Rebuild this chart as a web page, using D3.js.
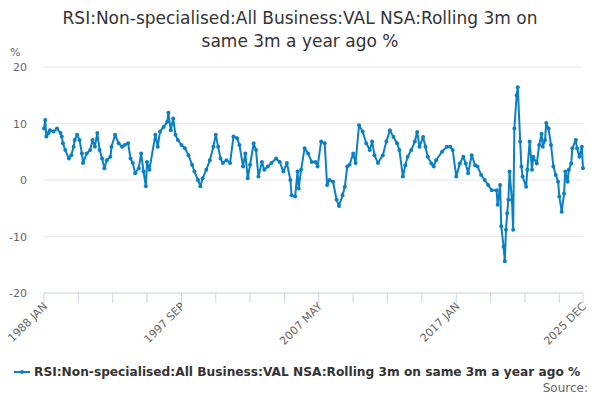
<!DOCTYPE html>
<html>
<head>
<meta charset="utf-8">
<script src="https://cdn.jsdelivr.net/npm/d3@7"></script>
<style>
  body { margin: 0; background: #fff; font-family: "DejaVu Sans", sans-serif; }
</style>
</head>
<body>
<div id="chart"></div>
<script>
// readings (month, value %)
const months = ["1988-01","1988-02","1988-03","1988-05","1988-06","1988-09","1988-12","1989-03","1989-04","1989-05","1989-07","1989-10","1989-12",
  "1990-02","1990-03","1990-05","1990-07","1990-09","1990-10","1991-01","1991-04","1991-06","1991-08","1991-10","1991-12",
  "1992-02","1992-04","1992-06","1992-09","1992-10","1993-01","1993-04","1993-07","1993-09","1993-12",
  "1994-02","1994-04","1994-06","1994-09","1994-11","1995-01","1995-03","1995-04","1995-06","1995-11",
  "1996-01","1996-03","1996-06","1996-09","1996-10","1996-12","1997-02","1997-04","1997-06","1997-09","1997-12",
  "1998-03","1998-06","1998-08","1998-11","1999-01","1999-03","1999-06","1999-09","1999-12",
  "2000-02","2000-04","2000-06","2000-08","2000-11","2001-02","2001-05","2001-08","2001-10",
  "2002-01","2002-03","2002-05","2002-07","2002-10","2002-12","2003-02","2003-05","2003-07","2003-10",
  "2004-01","2004-05","2004-08","2004-11","2005-02","2005-05","2005-06","2005-09","2005-11","2005-12",
  "2006-02","2006-05","2006-08","2006-11","2007-02","2007-04","2007-07","2007-10","2007-12",
  "2008-02","2008-05","2008-08","2008-10","2009-01","2009-03","2009-05","2009-07","2009-10","2009-12",
  "2010-03","2010-06","2010-09","2010-12","2011-02","2011-04","2011-07","2011-11",
  "2012-02","2012-05","2012-08","2012-11","2013-01","2013-04","2013-06","2013-08","2013-11",
  "2014-02","2014-04","2014-06","2014-09","2014-11","2015-01","2015-04","2015-06","2015-08",
  "2016-01","2016-05","2016-08","2016-10","2017-01","2017-04","2017-07","2017-09","2017-11",
  "2018-02","2018-05","2018-07","2018-10","2019-01","2019-04","2019-07","2019-11","2019-12",
  "2020-02","2020-03","2020-05","2020-06","2020-07","2020-08","2020-09","2020-10","2020-12",
  "2021-01","2021-02","2021-04","2021-05","2021-07","2021-08","2021-09","2021-12",
  "2022-01","2022-03","2022-05","2022-06","2022-09","2022-11","2023-01","2023-02","2023-04","2023-05","2023-07","2023-09","2023-11",
  "2024-01","2024-03","2024-04","2024-06","2024-08","2024-09","2024-11","2024-12",
  "2025-02","2025-03","2025-06","2025-07","2025-09","2025-11","2025-12"];
const values = [9.1,10.6,7.7,8.3,8.8,8.6,9.1,8.3,7.7,6.5,5.3,3.8,4.4,
  5.9,7.1,8.0,7.1,4.7,3.0,4.7,5.3,7.1,5.9,8.3,5.3,
  3.8,2.1,3.5,4.1,5.9,8.0,6.5,5.9,6.2,6.5,
  3.8,3.0,1.2,2.1,4.7,1.5,-1.1,3.2,1.8,8.0,
  5.9,8.6,9.4,10.3,11.9,8.8,10.9,8.0,7.1,6.2,5.6,
  4.4,2.7,1.5,0,-1.1,0.3,1.8,3.5,5.9,
  8.0,5.9,3.8,3.0,3.5,3.0,7.7,7.4,6.2,
  2.4,4.7,0.3,2.7,6.5,5.3,0.6,3.2,1.8,2.4,
  3.0,3.8,3.2,1.5,3.0,0,-2.7,-2.9,1.5,-1.5,
  1.8,5.6,4.7,3.2,3.2,2.4,6.8,6.5,-0.9,
  0,-0.3,-3.5,-4.6,-2.7,-1.2,2.4,2.7,4.7,3.0,
  9.7,8.6,6.5,5.3,6.8,4.4,3.0,4.4,
  6.8,8.8,7.6,6.5,5.3,0.6,2.6,4.1,5.3,
  6.8,8.5,5.9,7.6,5.9,4.1,2.9,2.4,3.5,
  5.0,5.9,5.9,5.3,0.6,2.9,4.1,2.9,1.2,
  4.4,2.6,2.4,0.9,0,-0.9,-1.8,-1.8,-4.4,
  -0.9,-8.2,-11.8,-14.4,-8.8,-5.9,-3.5,1.5,-3.5,
  -8.8,9.1,15.0,16.4,6.8,2.4,0.6,-1.2,
  1.8,6.8,1.8,4.1,2.9,6.2,8.2,5.9,7.1,10.1,9.1,6.2,2.4,
  0.9,-0.3,-2.9,-5.6,-2.4,1.5,-0.3,1.8,
  2.9,5.6,7.1,5.6,4.1,5.9,2.1];
const yTicks = [-20, -10, 0, 10, 20];
const xLabelMonths = ["1988-01", "1997-09", "2007-05", "2017-01", "2025-12"];
const xLabels = ["1988 JAN", "1997 SEP", "2007 MAY", "2017 JAN", "2025 DEC"];
const seriesName = "RSI:Non-specialised:All Business:VAL NSA:Rolling 3m on same 3m a year ago %";

const W = 600, H = 400;
const margin = {top: 67, right: 17, bottom: 107, left: 44};
const parse = d3.timeParse("%Y-%m");
const data = months.map((m, i) => ({date: parse(m), value: values[i]}));

const svg = d3.select("#chart").append("svg").attr("width", W).attr("height", H);

const x = d3.scaleTime()
    .domain([parse("1988-01"), parse("2025-12")])
    .range([margin.left, W - margin.right]);
const y = d3.scaleLinear().domain([-20, 20]).range([H - margin.bottom, margin.top]);

// title
svg.append("text").attr("x", W / 2).attr("y", 24).attr("text-anchor", "middle")
    .attr("font-size", 17).attr("fill", "#333")
    .text("RSI:Non-specialised:All Business:VAL NSA:Rolling 3m on");
svg.append("text").attr("x", W / 2).attr("y", 47).attr("text-anchor", "middle")
    .attr("font-size", 17).attr("fill", "#333")
    .text("same 3m a year ago %");

// grid + y labels
svg.append("g").selectAll("line").data(yTicks).enter().append("line")
    .attr("x1", margin.left).attr("x2", W - margin.right)
    .attr("y1", d => y(d)).attr("y2", d => y(d))
    .attr("stroke", "#e6e6e6");
svg.append("g").selectAll("text").data(yTicks).enter().append("text")
    .attr("x", 27).attr("y", d => y(d) + 4).attr("text-anchor", "end")
    .attr("font-size", 11).attr("fill", "#666").text(d => d);
svg.append("text").attr("x", 10).attr("y", 56).attr("font-size", 11).attr("fill", "#666").text("%");

// x axis
const xAxisY = y(-20);
svg.append("line").attr("x1", margin.left).attr("x2", W - margin.right)
    .attr("y1", xAxisY).attr("y2", xAxisY).attr("stroke", "#ccd6eb");
const minorTicks = d3.range(0, 456, 29).map(k => d3.timeMonth.offset(parse("1988-01"), k));
minorTicks.push(parse("2025-12"));
svg.append("g").selectAll("line").data(minorTicks).enter().append("line")
    .attr("x1", d => x(d)).attr("x2", d => x(d))
    .attr("y1", xAxisY).attr("y2", xAxisY + 10).attr("stroke", "#ccd6eb");
svg.append("g").selectAll("text").data(xLabelMonths).enter().append("text")
    .attr("transform", d => `translate(${x(parse(d)) + 4},${xAxisY + 14}) rotate(-45)`)
    .attr("text-anchor", "end").attr("font-size", 11).attr("fill", "#666")
    .text((d, i) => xLabels[i]);

// series
const color = "#0b7fc4";
svg.append("path").datum(data)
    .attr("fill", "none").attr("stroke", color).attr("stroke-width", 2)
    .attr("stroke-linejoin", "round")
    .attr("d", d3.line().x(d => x(d.date)).y(d => y(d.value)));
svg.append("g").selectAll("circle").data(data).enter().append("circle")
    .attr("cx", d => x(d.date)).attr("cy", d => y(d.value)).attr("r", 2)
    .attr("fill", color);

// legend
svg.append("line").attr("x1", 14).attr("x2", 30).attr("y1", 372).attr("y2", 372)
    .attr("stroke", color).attr("stroke-width", 2);
svg.append("circle").attr("cx", 22).attr("cy", 372).attr("r", 2).attr("fill", color);
svg.append("text").attr("x", 34).attr("y", 376).attr("font-size", 12.2)
    .attr("font-weight", "bold").attr("fill", "#333").text(seriesName);
svg.append("text").attr("x", 588).attr("y", 392).attr("text-anchor", "end")
    .attr("font-size", 12).attr("fill", "#666").text("Source:");
</script>
</body>
</html>
